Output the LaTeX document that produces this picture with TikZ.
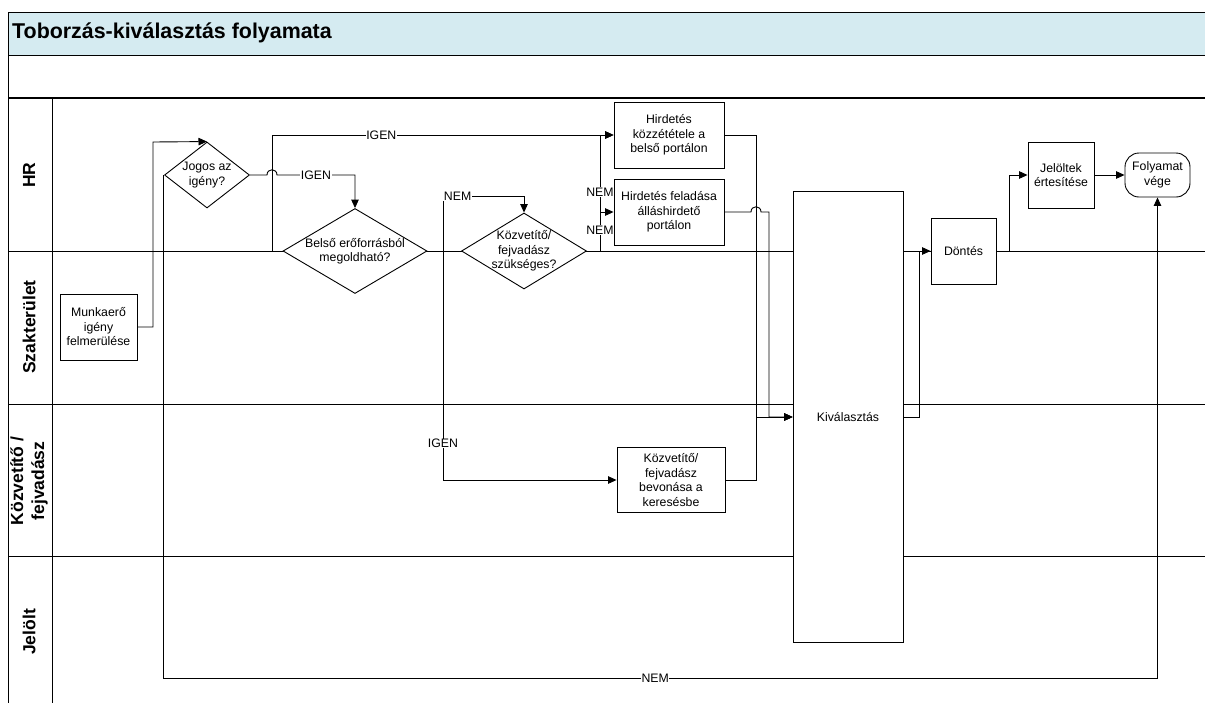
\documentclass[tikz,border=0pt]{standalone}
\usepackage{fontspec}
\setmainfont{Liberation Sans}
\usetikzlibrary{shapes.geometric,arrows.meta}
\definecolor{titlebg}{RGB}{213,235,241}
\begin{document}
\begin{tikzpicture}[x=1pt,y=-1pt,
  box/.style={draw,fill=white,line width=0.9pt,inner sep=0pt},
  dia/.style={diamond,draw,fill=white,line width=0.9pt,inner sep=0pt},
  txt/.style={align=center,font=\fontsize{12.3}{14.5}\selectfont,inner sep=0pt},
  lbl/.style={fill=white,inner sep=0.5pt,font=\fontsize{12.3}{14}\selectfont},
  conn/.style={line width=0.9pt},
  arr/.style={conn,-{Triangle[length=8.5pt,width=7.5pt]}},
  lane/.style={line width=1pt},
  lanetxt/.style={rotate=90,align=center,font=\fontsize{17.5}{21}\selectfont\bfseries}
]
\useasboundingbox (0,0) rectangle (1205,702);
\begin{scope}
\clip (0,0) rectangle (1205,702);
\fill[titlebg] (8,12) rectangle (1215,55);
\draw[lane] (1215,12) -- (8,12) -- (8,710);
\draw[lane] (8,55) -- (1215,55);
\draw[line width=1.6pt] (8,98) -- (1215,98);
\draw[lane] (52,98) -- (52,710);
\foreach \yy in {251,404,556} \draw[lane] (8,\yy) -- (1215,\yy);
\end{scope}

\node[anchor=west,inner sep=0pt,font=\fontsize{21.4}{25}\selectfont\bfseries] (title) at (12,33) {Toborzás-kiválasztás folyamata};

\node[lanetxt] (lhr) at (29,175) {HR};
\node[lanetxt] (lszak) at (29,327) {Szakterület};
\node[lanetxt] (lkozv) at (29,481) {Közvetítő /\\fejvadász};
\node[lanetxt] (ljel) at (29,632) {Jelölt};

% nodes
\node[box,txt,minimum width=77pt,minimum height=66pt] (munka) at (98.5,327) {Munkaerő\\igény\\felmerülése};
\node[dia,minimum width=85pt,minimum height=66pt] (jogos) at (207,175) {};
\node[txt] (jogost) at (jogos) {Jogos az\\igény?};
\node[dia,minimum width=144pt,minimum height=85pt] (belso) at (355,251) {};
\node[txt] (belsot) at (belso) {Belső erőforrásból\\megoldható?};
\node[dia,minimum width=125pt,minimum height=76pt] (kozv) at (524,251) {};
\node[txt] (kozvt) at (kozv) {Közvetítő/\\fejvadász\\szükséges?};
\node[box,txt,minimum width=110pt,minimum height=66pt] (hird1) at (669,135) {Hirdetés\\közzététele a\\belső portálon};
\node[box,txt,minimum width=110pt,minimum height=66pt] (hird2) at (669,212) {Hirdetés feladása\\álláshirdető\\portálon};
\node[box,txt,minimum width=108pt,minimum height=65pt] (bevon) at (671,480) {Közvetítő/\\fejvadász\\bevonása a\\keresésbe};
\node[box,txt,minimum width=110pt,minimum height=451pt] (kival) at (848,417) {Kiválasztás};
\node[box,txt,minimum width=65pt,minimum height=66pt] (dontes) at (963.5,251) {Döntés};
\node[box,txt,minimum width=66pt,minimum height=66pt] (jeloltek) at (1061,175) {Jelöltek\\értesítése};
\node[box,txt,rounded corners=14pt,minimum width=65pt,minimum height=44pt] (vege) at (1157.5,175) {Folyamat\\vége};

% connectors
\draw[arr] (munka.east) -- (153,327) -- (153,142) -- (jogos.north);
\draw[arr] (jogos.west) -- (163,175) -- (163,678) -- node[lbl,pos=0.495]{NEM} (vege.south |- 0,678) -- (vege.south);
\draw[arr] (jogos.east) -- (267,175) .. controls (267,168) and (277,168) .. (277,175) -- node[lbl]{IGEN} (355,175) -- (belso.north);
\draw[arr] (belso.west) -- (272,251) -- (272,135) -- node[lbl,pos=0.32]{IGEN} (hird1.west);
\draw[arr] (belso.east) -- (443,251) -- (443,196) node[lbl,anchor=west]{NEM} -- (524,196) -- (kozv.north);
\draw[arr] (kozv.west) -- (443,251) -- node[lbl,pos=0.84]{IGEN} (443,480) -- (bevon.west);
\draw[arr] (kozv.east) -- (600,251) -- node[lbl,pos=0.51]{NEM} (600,135) -- (hird1.west);
\draw[arr] (kozv.east) -- (600,251) -- node[lbl,pos=0.54]{NEM} (600,212) -- (hird2.west);
\draw[arr] (hird1.east) -- (756,135) -- (756,417) -- (kival.west);
\draw[arr] (hird2.east) -- (751,212) .. controls (751,205) and (761,205) .. (761,212) -- (769,212) -- (769,417) -- (kival.west);
\draw[arr] (bevon.east) -- (756,480) -- (756,417) -- (kival.west);
\draw[arr] (kival.east) -- (919,417) -- (919,251) -- (dontes.west);
\draw[arr] (dontes.east) -- (1009,251) -- (1009,175) -- (jeloltek.west);
\draw[arr] (jeloltek.east) -- (vege.west);
\end{tikzpicture}
\end{document}
